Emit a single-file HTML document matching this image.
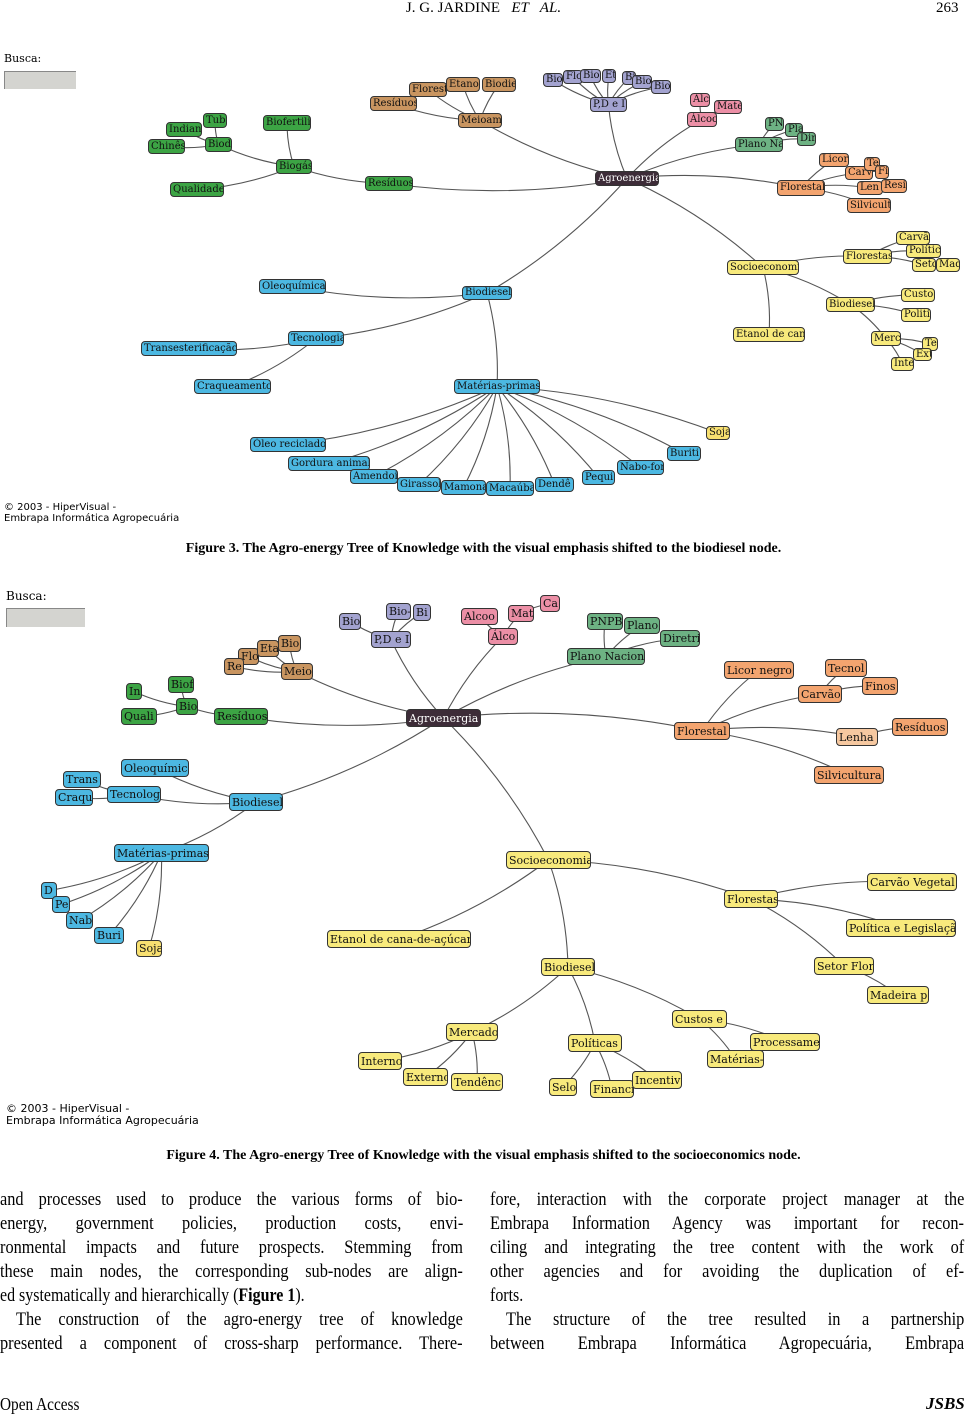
<!DOCTYPE html>
<html><head><meta charset="utf-8">
<style>
body{margin:0;background:#fff;width:967px;height:1415px;position:relative;overflow:hidden;font-family:"Liberation Serif",serif;}
.n{position:absolute;box-sizing:border-box;border:1px solid #333;border-radius:4px;font-family:"DejaVu Serif","Liberation Serif",serif;white-space:nowrap;overflow:hidden;color:#111;line-height:1;padding:0 2px;display:flex;align-items:center;}
.t{position:absolute;white-space:nowrap;}
.ln{position:absolute;white-space:nowrap;font-size:19px;transform-origin:0 0;color:#000;line-height:22px;}
svg{position:absolute;left:0;top:0;}
</style></head><body>
<svg id="sv" width="967" height="1415"></svg>
<div class="t" style="left:0;width:967px;text-align:center;top:0;font-size:15px">J. G. JARDINE &nbsp;&nbsp;<i>ET &nbsp;&nbsp;AL.</i></div>
<div class="t" style="left:936px;top:0;font-size:15px">263</div>

<div class="t" style="left:4px;top:52px;font-size:11px;font-family:'DejaVu Serif',serif">Busca:</div>
<div style="position:absolute;left:4px;top:71px;width:71px;height:17px;background:#d4d4d0;border-top:1px solid #888;border-left:1px solid #888"></div>
<div class="t" style="left:4px;top:502px;font-size:10px;font-family:'DejaVu Sans',sans-serif;line-height:11px">© 2003 - HiperVisual -<br>Embrapa Informática Agropecuária</div>
<div class="t" style="left:0;width:967px;text-align:center;top:541px;font-size:14px;font-weight:bold">Figure 3. The Agro-energy Tree of Knowledge with the visual emphasis shifted to the biodiesel node.</div>

<div class="t" style="left:6px;top:589px;font-size:12px;font-family:'DejaVu Serif',serif">Busca:</div>
<div style="position:absolute;left:6px;top:608px;width:78px;height:18px;background:#d4d4d0;border-top:1px solid #888;border-left:1px solid #888"></div>
<div class="t" style="left:6px;top:1103px;font-size:11px;font-family:'DejaVu Sans',sans-serif;line-height:12px">© 2003 - HiperVisual -<br>Embrapa Informática Agropecuária</div>
<div class="t" style="left:0;width:967px;text-align:center;top:1148px;font-size:14px;font-weight:bold">Figure 4. The Agro-energy Tree of Knowledge with the visual emphasis shifted to the socioeconomics node.</div>

<div id="txt"></div>
<div class="t" style="left:0;top:1394px;font-size:18px;transform:scaleX(.85);transform-origin:0 0">Open Access</div>
<div class="t" style="left:926px;top:1394px;font-size:17px;font-weight:bold;font-style:italic">JSBS</div>

<script>
const C={g:'#3ca444',t:'#c99560',p:'#a3a3d0',k:'#ec8fa6',m:'#6db283',o:'#f3a46f',y:'#f8ea7c',b:'#4cb8e2',d:'#3d2c38',s:'#f8e070',l:'#f6c8a0'};
const N3=[
['A','Agroenergia',595,171,64,15,'d',null],
['gR','Resíduos',365,176,48,15,'g','A'],['gB','Biogás',276,159,36,15,'g','gR'],['gBf','Biofertili',263,115,48,16,'g','gB'],['gQ','Qualidade',170,182,54,15,'g','gB'],['gBd','Biod',205,137,27,15,'g','gB'],['gI','Indian',166,122,36,15,'g','gBd'],['gT','Tub',203,113,24,15,'g','gBd'],['gC','Chinês',148,139,37,15,'g','gBd'],
['tM','Meioam',458,113,44,15,'t','A'],['tF','Florest',409,82,38,15,'t','tM'],['tE','Etanol',446,77,34,15,'t','tM'],['tB','Biodie',482,77,34,15,'t','tM'],['tR','Resíduos',370,96,47,15,'t','tM'],
['pP','P,D e I',590,97,37,15,'p','A'],['p1','Bio',543,73,20,14,'p','pP'],['p2','Flo',563,70,20,14,'p','pP'],['p3','Biof',580,69,21,14,'p','pP'],['p4','Et',602,69,14,14,'p','pP'],['p5','Bi',622,71,14,14,'p','pP'],['p6','Bio',632,75,20,14,'p','pP'],['p7','Bio',651,80,20,14,'p','pP'],
['kA','Álcoo',687,112,30,15,'k','A'],['k1','Alc',690,93,20,14,'k','kA'],['k2','Maté',714,100,28,14,'k','kA'],
['mP','Plano Na',735,137,48,15,'m','A'],['m1','PN',765,117,19,14,'m','mP'],['m2','Pla',785,123,18,14,'m','mP'],['m3','Dir',797,132,19,14,'m','mP'],
['oF','Florestal',777,180,48,16,'o','A'],['o1','Licor',819,153,30,14,'o','oF'],['o2','Carv',845,166,28,14,'o','oF'],['o3','Te',864,157,16,14,'o','o2'],['o4','Fi',875,165,14,14,'o','o2'],['o5','Len',857,181,26,14,'o','oF'],['o6','Resi',881,179,26,14,'o','o5'],['o7','Silvicult',847,198,44,15,'o','oF'],
['yS','Socioeconomi',727,260,72,15,'y','A'],['yF','Florestas',843,249,49,15,'y','yS'],['y1','Carvã',896,231,34,14,'y','yF'],['y2','Polític',906,244,35,14,'y','yF'],['y3','Seto',912,258,24,14,'y','yF'],['y4','Mad',936,258,24,14,'y','y3'],['yB','Biodiesel',826,297,49,15,'y','yS'],['y5','Custo',901,288,34,14,'y','yB'],['y6','Politi',901,308,30,14,'y','yB'],['yE','Etanol de can',733,327,72,15,'y','yS'],['yM','Merc',871,331,30,15,'y','yB'],['y7','Te',922,337,16,14,'y','yM'],['y8','Ext',913,348,19,13,'y','yM'],['y9','Inte',891,357,23,14,'y','yM'],
['bB','Biodiesel',462,286,50,14,'b','A'],['bO','Oleoquímica',259,279,67,15,'b','bB'],['bT','Tecnologia',288,331,56,15,'b','bB'],['bTr','Transesterificação',141,341,96,15,'b','bT'],['bC','Craqueamento',194,379,77,15,'b','bT'],['bM','Matérias-primas',454,379,86,15,'b','bB'],
['s1','Soja',706,426,24,14,'s','bM'],['b1','Óleo reciclado',250,437,76,15,'b','bM'],['b2','Gordura animal',288,456,82,15,'b','bM'],['b3','Amendoi',350,469,48,15,'b','bM'],['b4','Girassol',397,477,44,15,'b','bM'],['b5','Mamona',441,480,45,15,'b','bM'],['b6','Macaúba',486,481,48,15,'b','bM'],['b7','Dendê',535,477,39,15,'b','bM'],['b8','Pequi',582,470,33,15,'b','bM'],['b9','Nabo-for',617,460,47,15,'b','bM'],['b10','Buriti',667,446,34,15,'b','bM']
];
const N4=[
['A','Agroenergia',406,709,75,18,'d',null],
['pP','P,D e I',371,631,40,17,'p','A'],['p1','Bio',339,613,22,17,'p','pP'],['p2','Bio-',386,603,25,17,'p','pP'],['p3','Bi',413,604,18,17,'p','pP'],
['kA','Álco',488,628,30,17,'k','A'],['k1','Alcoo',461,608,37,17,'k','kA'],['k2','Mat',508,605,26,17,'k','kA'],['k3','Ca',540,595,20,17,'k','k2'],
['mP','Plano Nacion',567,648,78,17,'m','A'],['m1','PNPB',587,613,36,17,'m','mP'],['m2','Plano',624,617,36,17,'m','mP'],['m3','Diretri',660,630,40,17,'m','mP'],
['tM','Meio',281,663,32,17,'t','A'],['t1','Flo',238,648,21,17,'t','tM'],['t2','Eta',257,640,22,17,'t','tM'],['t3','Bio',278,635,23,17,'t','tM'],['t4','Re',224,658,20,17,'t','tM'],
['gR','Resíduos',214,708,54,17,'g','A'],['gB','Bio',176,698,22,17,'g','gR'],['g1','In',126,683,16,17,'g','gB'],['g2','Biof',168,676,26,17,'g','gB'],['g3','Quali',121,708,36,17,'g','gB'],
['oF','Florestal',674,722,56,18,'o','A'],['o1','Licor negro',724,661,70,18,'o','oF'],['o2','Carvão',798,685,44,18,'o','oF'],['o3','Tecnol',825,659,42,18,'o','o2'],['o4','Finos',862,677,36,18,'o','o2'],['o5','Lenha',836,728,42,18,'l','oF'],['o6','Resíduos',892,718,56,18,'o','o5'],['o7','Silvicultura',814,766,70,18,'o','oF'],
['bB','Biodiesel',229,793,54,18,'b','A'],['bO','Oleoquímic',121,759,68,18,'b','bB'],['bT','Tecnolog',107,786,54,17,'b','bB'],['b1','Trans',63,771,38,17,'b','bT'],['b2','Craqu',55,789,38,17,'b','bT'],['bM','Matérias-primas',114,844,95,18,'b','bB'],['b3','D',41,882,16,17,'b','bM'],['b4','Pe',52,896,18,17,'b','bM'],['b5','Nab',66,912,27,17,'b','bM'],['b6','Buri',94,927,30,17,'b','bM'],['s1','Soja',136,940,26,17,'s','bM'],
['yS','Socioeconomia',506,851,85,18,'y','A'],['yF','Florestas',724,890,54,18,'y','yS'],['y1','Carvão Vegetal',867,873,90,18,'y','yF'],['y2','Política e Legislaçã',846,919,110,18,'y','yF'],['y3','Setor Flor',814,957,60,18,'y','yF'],['y4','Madeira p',867,986,62,18,'y','y3'],['yE','Etanol de cana-de-açúcar',327,930,144,18,'y','yS'],['yB','Biodiesel',541,958,54,18,'y','yS'],['yC','Custos e',672,1010,55,18,'y','yB'],['y5','Processame',750,1033,70,18,'y','yC'],['y6','Matérias-',707,1050,57,18,'y','yC'],['yM','Mercado',446,1023,52,18,'y','yB'],['y7','Interno',358,1052,44,18,'y','yM'],['y8','Externo',403,1068,45,18,'y','yM'],['y9','Tendênc',451,1073,52,18,'y','yM'],['yP','Políticas',568,1034,54,18,'y','yB'],['y10','Selo',549,1078,28,18,'y','yP'],['y11','Financi',590,1080,44,18,'y','yP'],['y12','Incentiv',632,1071,50,18,'y','yP']
];
const sv=document.getElementById('sv');let svh='';
function draw(N,fs){const m={};N.forEach(n=>m[n[0]]=n);
N.forEach(n=>{if(!n[7])return;const p=m[n[7]];const x1=p[2]+p[4]/2,y1=p[3]+p[5]/2,x2=n[2]+n[4]/2,y2=n[3]+n[5]/2;
const mx=(x1+x2)/2,my=(y1+y2)/2;svh+=`<path d="M${x1} ${y1} Q${mx+(y2-y1)*0.08} ${my-(x2-x1)*0.08} ${x2} ${y2}" stroke="#555" stroke-width="1.1" fill="none"/>`;});
N.forEach(n=>{const d=document.createElement('div');d.className='n';d.textContent=n[1];
d.style.cssText=`left:${n[2]}px;top:${n[3]}px;width:${n[4]}px;height:${n[5]}px;background:${C[n[6]]};font-size:${fs}px;`+(n[6]=='d'?'color:#fff;':'');document.body.appendChild(d);});}
draw(N3,10);draw(N4,11);
sv.innerHTML=svh;
const L=[
[0,1189,463,'and processes used to produce the various forms of bio-'],
[0,1213,463,'energy, government policies, production costs, envi-'],
[0,1237,463,'ronmental impacts and future prospects. Stemming from'],
[0,1261,463,'these main nodes, the corresponding sub-nodes are align-'],
[0,1285,0,'ed systematically and hierarchically (<b>Figure 1</b>).'],
[16,1309,447,'The construction of the agro-energy tree of knowledge'],
[0,1333,463,'presented a component of cross-sharp performance. There-'],
[490,1189,474,'fore, interaction with the corporate project manager at the'],
[490,1213,474,'Embrapa Information Agency was important for recon-'],
[490,1237,474,'ciling and integrating the tree content with the work of'],
[490,1261,474,'other agencies and for avoiding the duplication of ef-'],
[490,1285,0,'forts.'],
[506,1309,458,'The structure of the tree resulted in a partnership'],
[490,1333,474,'between Embrapa Informática Agropecuária, Embrapa']];
const tx=document.getElementById('txt');
L.forEach(l=>{const d=document.createElement('div');d.className='ln';d.style.left=l[0]+'px';d.style.top=l[1]+'px';d.innerHTML=l[3];tx.appendChild(d);
const w=d.scrollWidth;
if(l[2]){let s=l[2]/w;if(s>0.86){const words=l[3].split(' ').length-1;d.style.wordSpacing=((l[2]-w*0.86)/0.86/words)+'px';s=0.86;}d.style.transform=`scaleX(${s})`;}
else d.style.transform='scaleX(0.84)';});
</script>
</body></html>
